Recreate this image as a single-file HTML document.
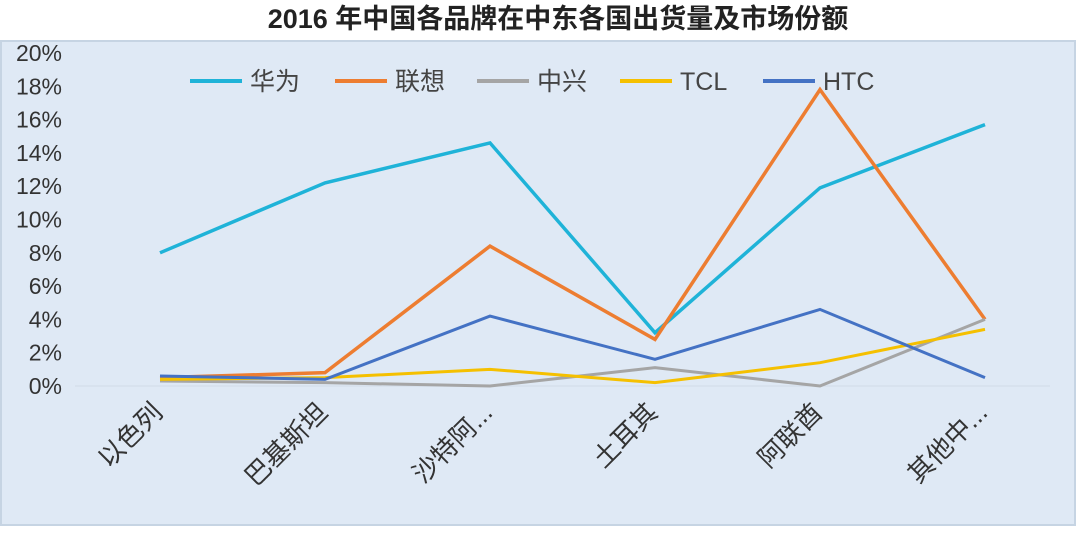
<!DOCTYPE html>
<html><head><meta charset="utf-8"><style>
body{margin:0;background:#fff;}
svg text{font-family:"Liberation Sans","Noto Sans CJK SC",sans-serif;}
</style></head><body>
<svg width="1080" height="529" viewBox="0 0 1080 529">
<rect x="0" y="0" width="1080" height="529" fill="#fff"/>
<text x="558" y="28" text-anchor="middle" font-size="27" font-weight="bold" fill="#222">2016 年中国各品牌在中东各国出货量及市场份额</text>
<rect x="1" y="41" width="1074" height="484" fill="#dfe9f5" stroke="#c6d4e3" stroke-width="2"/>
<line x1="75" y1="386" x2="1050" y2="386" stroke="#d0dbe8" stroke-width="1"/>
<g id="yticks"></g><g id="xlabels"></g><g id="series"></g><g id="legend"></g>
</svg>
<script>
const categories=["以色列","巴基斯坦","沙特阿...","土耳其","阿联酋","其他中..."];
const seriesNames=["华为","联想","中兴","TCL","HTC"];
const huawei=[8.0,12.2,14.6,3.2,11.9,15.7];
const lenovo=[0.5,0.8,8.4,2.8,17.8,4.0];
const zte=[0.3,0.2,0.0,1.1,0.0,4.0];
const tcl=[0.4,0.5,1.0,0.2,1.4,3.4];
const htc=[0.6,0.4,4.2,1.6,4.6,0.5];
const yTicks=[0,2,4,6,8,10,12,14,16,18,20];
const NS="http://www.w3.org/2000/svg";
const colors=["#1fb3d8","#ed7d31","#a5a5a5","#f5c000","#4472c4"];
const data=[huawei,lenovo,zte,tcl,htc];
function y(v){return 386-(v/20)*333;}
function x(i){return 160+i*165;}
function mk(t,a,p){const e=document.createElementNS(NS,t);for(const k in a)e.setAttribute(k,a[k]);p.appendChild(e);return e;}
const yg=document.getElementById('yticks');
yTicks.forEach(v=>{const t=mk('text',{x:62,y:y(v)+8,'text-anchor':'end','font-size':23,fill:'#333'},yg);


t.textContent=v+'%';});
const xg=document.getElementById('xlabels');
categories.forEach((c,i)=>{const t=mk('text',{x:x(i)+4,y:414,'text-anchor':'end','font-size':26,fill:'#333',transform:`rotate(-45 ${x(i)+4} 414)`},xg);


t.textContent=c;});
const sg=document.getElementById('series');
data.forEach((d,s)=>{const p=mk('polyline',{points:d.map((v,i)=>x(i)+','+y(v)).join(' '),fill:'none',stroke:colors[s],'stroke-width':s<2?3.5:3,'stroke-linejoin':'miter'},sg);

});
const lg=document.getElementById('legend');
const lx=[190,335,477,620,763];
seriesNames.forEach((n,s)=>{const g=mk('g',{},lg);


mk('line',{x1:lx[s],y1:81,x2:lx[s]+52,y2:81,stroke:colors[s],'stroke-width':4},g);
const t=mk('text',{x:lx[s]+60,y:90,'font-size':25,fill:'#444'},g);t.textContent=n;});
</script>
</body></html>
